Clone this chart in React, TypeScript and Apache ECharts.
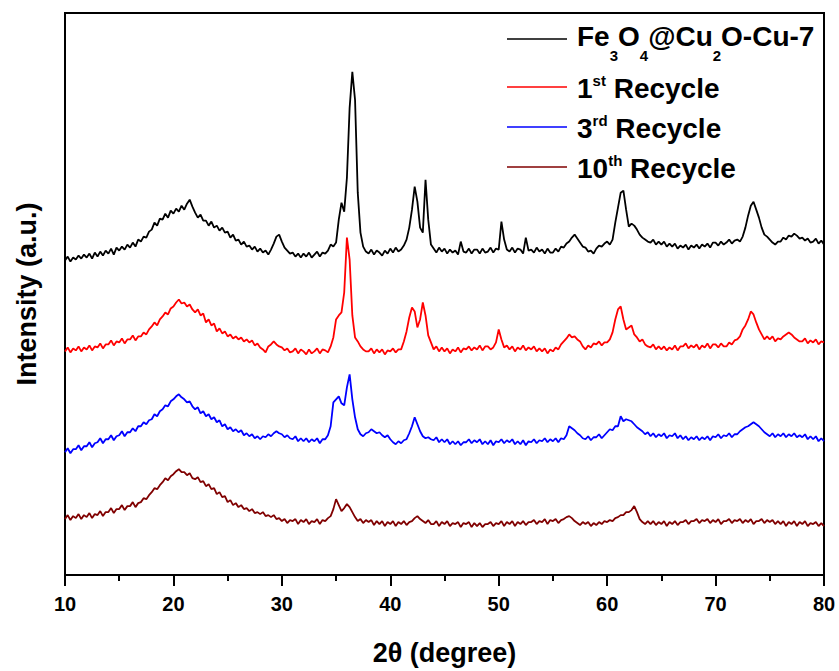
import React, { useEffect, useRef } from "react";
import * as echarts from "echarts";

// 2θ sampling: starts at 10°, one value every 0.25° up to 80°
const thetaStart = 10;
const thetaStep = 0.25;

const seriesNames = ["Fe3O4@Cu2O-Cu-7", "1st Recycle", "3rd Recycle", "10th Recycle"];
const seriesColors = ["#000000", "#ff0000", "#0000ff", "#800000"];
const xTickValues = [10, 20, 30, 40, 50, 60, 70, 80];

// Intensity (a.u., curves stacked with offsets as in the figure)
const fe3o4Cu2O = [
  317, 321, 316, 320, 318, 322, 319, 323, 320, 324, 319, 325, 321, 326, 322, 327,
  324, 329, 323, 330, 327, 331, 328, 333, 330, 335, 331, 338, 336, 341, 340, 346,
  348, 355, 352, 359, 358, 364, 360, 367, 364, 369, 366, 372, 368, 374, 378, 371,
  365, 360, 363, 357, 357, 352, 356, 350, 352, 347, 350, 345, 346, 340, 343, 337,
  338, 333, 336, 331, 332, 328, 331, 326, 329, 325, 327, 323, 328, 334, 341, 343,
  336, 330, 327, 324, 325, 321, 324, 320, 324, 321, 325, 320, 323, 326, 321, 325,
  324, 327, 333, 331, 335, 358, 375, 366, 400, 470, 506, 478, 385, 345, 331, 326,
  324, 328, 323, 327, 325, 322, 327, 324, 329, 325, 330, 326, 328, 332, 338, 350,
  368, 391, 376, 350, 345, 398, 358, 333, 329, 325, 330, 326, 329, 324, 328, 325,
  327, 323, 336, 326, 325, 329, 324, 328, 328, 324, 329, 325, 326, 330, 325, 329,
  328, 356, 338, 328, 326, 330, 325, 329, 328, 324, 340, 327, 328, 325, 330, 326,
  328, 324, 329, 325, 325, 329, 326, 331, 330, 334, 336, 340, 343, 339, 335, 331,
  330, 326, 327, 324, 329, 332, 331, 334, 336, 333, 338, 355, 370, 385, 387, 368,
  351, 354, 352, 348, 343, 340, 338, 336, 335, 338, 333, 336, 333, 336, 331, 334,
  331, 334, 329, 332, 330, 333, 328, 332, 330, 333, 329, 333, 331, 334, 330, 335,
  335, 332, 336, 333, 335, 338, 334, 337, 338, 336, 341, 350, 362, 372, 376, 368,
  360, 350, 343, 341, 338, 335, 333, 336, 336, 340, 338, 342, 341, 344, 342, 339,
  340, 337, 339, 335, 336, 339, 334, 337, 333,
];

const recycle1 = [
  226, 230, 225, 229, 227, 231, 226, 230, 228, 232, 227, 231, 230, 234, 229, 233,
  233, 237, 232, 236, 235, 239, 234, 238, 238, 242, 237, 241, 241, 245, 243, 248,
  251, 255, 252, 258, 261, 265, 263, 269, 271, 275, 278, 274, 275, 271, 273, 268,
  265, 268, 262, 264, 255, 258, 252, 254, 246, 249, 244, 246, 241, 243, 239, 241,
  238, 240, 236, 238, 235, 237, 232, 234, 230, 228, 225, 231, 233, 236, 233, 231,
  230, 227, 229, 225, 226, 229, 224, 228, 226, 223, 228, 224, 226, 229, 224, 228,
  227, 225, 231, 240, 258, 262, 265, 285, 340, 318, 262, 240, 236, 231, 228, 226,
  226, 229, 224, 228, 225, 228, 223, 227, 226, 229, 225, 228, 228, 236, 246, 260,
  270, 266, 250, 258, 275, 262, 242, 235, 228, 231, 226, 230, 226, 229, 224, 228,
  226, 230, 225, 229, 228, 231, 227, 230, 228, 232, 227, 231, 231, 228, 230, 235,
  248, 238, 230, 232, 228, 231, 226, 230, 228, 232, 227, 230, 228, 231, 226, 229,
  226, 229, 224, 228, 226, 230, 228, 233, 236, 239, 243, 240, 241, 238, 236, 231,
  228, 232, 230, 234, 233, 236, 232, 235, 235, 238, 245, 258, 268, 271, 258, 248,
  250, 252, 243, 240, 236, 238, 233, 231, 230, 233, 228, 231, 228, 231, 227, 230,
  228, 232, 227, 231, 231, 234, 229, 232, 230, 233, 228, 232, 230, 234, 229, 233,
  233, 230, 234, 231, 231, 235, 233, 237, 238, 241, 248, 252, 258, 266, 263, 255,
  248, 243, 238, 241, 238, 241, 236, 239, 238, 241, 243, 245, 243, 240, 238, 236,
  236, 239, 234, 237, 235, 238, 233, 236, 235,
];

const recycle3 = [
  125, 129, 124, 128, 128, 132, 127, 131, 131, 135, 130, 134, 135, 139, 134, 138,
  138, 142, 137, 141, 142, 146, 141, 145, 145, 149, 146, 151, 151, 155, 153, 157,
  158, 163, 161, 166, 168, 172, 171, 176, 178, 181, 183, 180, 178, 175, 176, 171,
  168, 170, 164, 166, 161, 163, 158, 160, 155, 157, 151, 153, 148, 150, 146, 148,
  145, 147, 142, 144, 141, 143, 139, 141, 138, 141, 140, 143, 141, 144, 146, 144,
  143, 140, 142, 139, 138, 141, 136, 139, 136, 139, 135, 138, 136, 139, 134, 138,
  138, 142, 151, 175, 178, 181, 174, 172, 190, 203, 178, 160, 148, 143, 141, 144,
  145, 148, 146, 144, 145, 142, 140, 142, 138, 135, 133, 136, 134, 137, 138, 144,
  151, 160, 153, 146, 141, 139, 140, 138, 137, 140, 135, 138, 135, 138, 133, 136,
  133, 136, 132, 135, 135, 138, 134, 137, 135, 138, 133, 136, 133, 137, 132, 136,
  135, 138, 134, 137, 135, 138, 133, 136, 133, 137, 132, 136, 135, 138, 134, 137,
  136, 139, 135, 138, 136, 139, 135, 139, 138, 142, 151, 149, 147, 144, 142, 139,
  138, 141, 137, 140, 140, 143, 139, 142, 145, 148, 147, 151, 151, 161, 156, 158,
  157, 156, 153, 150, 148, 146, 143, 145, 141, 144, 140, 143, 141, 144, 139, 142,
  141, 144, 139, 142, 138, 141, 137, 140, 138, 141, 137, 140, 138, 141, 137, 141,
  140, 143, 139, 142, 141, 144, 140, 143, 143, 146, 148, 150, 151, 153, 155, 153,
  151, 148, 145, 143, 141, 144, 140, 143, 141, 144, 140, 143, 141, 144, 140, 142,
  140, 143, 138, 141, 138, 141, 136, 139, 136,
];

const recycle10 = [
  58, 62, 57, 61, 59, 63, 58, 62, 60, 64, 59, 63, 62, 66, 61, 65,
  65, 69, 64, 68, 68, 72, 67, 71, 71, 75, 70, 74, 75, 79, 78, 82,
  85, 89, 88, 92, 95, 99, 97, 101, 103, 106, 108, 105, 105, 102, 104, 99,
  98, 100, 95, 96, 91, 93, 88, 89, 83, 85, 80, 81, 75, 77, 72, 74,
  70, 72, 68, 69, 66, 68, 64, 65, 63, 65, 61, 62, 60, 62, 58, 59,
  56, 58, 54, 57, 56, 58, 53, 57, 55, 58, 53, 56, 55, 58, 53, 57,
  56, 59, 61, 68, 78, 72, 66, 69, 73, 70, 65, 60, 56, 58, 54, 57,
  55, 57, 52, 56, 53, 56, 51, 55, 53, 56, 51, 55, 53, 56, 52, 55,
  56, 59, 61, 58, 56, 54, 57, 53, 53, 56, 51, 55, 53, 56, 51, 54,
  53, 55, 50, 54, 53, 55, 50, 54, 51, 54, 50, 53, 53, 55, 51, 54,
  53, 56, 51, 55, 53, 56, 51, 55, 53, 56, 52, 55, 55, 57, 53, 56,
  55, 58, 53, 57, 56, 58, 54, 57, 58, 60, 61, 59, 56, 54, 52, 55,
  53, 55, 51, 54, 52, 55, 53, 56, 55, 57, 56, 59, 60, 62, 62, 65,
  65, 67, 71, 65, 58, 55, 53, 56, 53, 56, 52, 55, 53, 56, 51, 55,
  53, 56, 52, 55, 55, 57, 53, 56, 56, 58, 54, 57, 56, 58, 54, 57,
  55, 58, 53, 56, 56, 58, 54, 57, 56, 58, 54, 57, 55, 58, 53, 56,
  56, 58, 54, 57, 55, 57, 53, 56, 53, 56, 51, 55, 53, 56, 51, 55,
  53, 56, 51, 54, 53, 55, 51, 54, 51,
];

const allSeries = [fe3o4Cu2O, recycle1, recycle3, recycle10];

const FONT = "'Liberation Sans', Arial, sans-serif";

export default function App() {
  const ref = useRef<HTMLDivElement>(null);

  useEffect(() => {
    if (!ref.current) return;
    const chart = echarts.init(ref.current, undefined, { renderer: "svg" });

    const series = allSeries.map((vals, k) => ({
      name: seriesNames[k],
      type: "line",
      data: vals.map((v, i) => [thetaStart + i * thetaStep, v]),
      showSymbol: false,
      symbol: "none",
      lineStyle: { color: seriesColors[k], width: 1.8 },
      itemStyle: { color: seriesColors[k] },
      z: 4 - k,
    }));

    const legendLineX1 = 507;
    const legendLineX2 = 567;
    const legendTextX = 577;
    const legendLineY = [39, 87, 127, 167];
    const legendTextY = [21, 73, 113, 153];
    const legendTexts = [
      "Fe{sub|3}O{sub|4}@Cu{sub|2}O-Cu-7",
      "1{sup|st} Recycle",
      "3{sup|rd} Recycle",
      "10{sup|th} Recycle",
    ];

    const graphic: any[] = [];
    legendTexts.forEach((t, k) => {
      graphic.push({
        type: "line",
        shape: { x1: legendLineX1, y1: legendLineY[k], x2: legendLineX2, y2: legendLineY[k] },
        style: { stroke: seriesColors[k], lineWidth: 1.5 },
        z: 10,
      });
      graphic.push({
        type: "text",
        x: legendTextX,
        y: legendTextY[k],
        z: 10,
        style: {
          text: t,
          fill: "#000",
          fontSize: 28,
          fontWeight: "bold",
          fontFamily: FONT,
          lineHeight: 30,
          verticalAlign: "top",
          rich: {
            sub: {
              fontSize: 15,
              fontWeight: "bold",
              fontFamily: FONT,
              lineHeight: 15,
              verticalAlign: "top",
              padding: [27, 0, 0, 0],
              fill: "#000",
            },
            sup: {
              fontSize: 15,
              fontWeight: "bold",
              fontFamily: FONT,
              lineHeight: 15,
              verticalAlign: "top",
              fill: "#000",
            },
          },
        },
      });
    });

    chart.setOption({
      animation: false,
      backgroundColor: "#ffffff",
      grid: {
        left: 65,
        right: 15,
        top: 13,
        bottom: 95,
        show: true,
        borderColor: "#000",
        borderWidth: 2,
        backgroundColor: "transparent",
      },
      xAxis: {
        type: "value",
        min: xTickValues[0],
        max: xTickValues[xTickValues.length - 1],
        interval: 10,
        name: "2θ (degree)",
        nameLocation: "middle",
        nameGap: 64,
        nameTextStyle: { fontSize: 27, fontWeight: "bold", fontFamily: FONT, color: "#000" },
        axisLine: { show: true, lineStyle: { color: "#000", width: 2 } },
        axisTick: { show: true, inside: false, length: 11, lineStyle: { color: "#000", width: 2 } },
        minorTick: { show: true, splitNumber: 2, length: 6, lineStyle: { color: "#000", width: 2 } },
        axisLabel: { fontSize: 20, fontWeight: "bold", fontFamily: FONT, color: "#000", margin: 19 },
        splitLine: { show: false },
        minorSplitLine: { show: false },
      },
      yAxis: {
        type: "value",
        min: 2,
        max: 565,
        name: "Intensity (a.u.)",
        nameLocation: "middle",
        nameGap: 25,
        nameTextStyle: { fontSize: 27, fontWeight: "bold", fontFamily: FONT, color: "#000" },
        axisLine: { show: true, lineStyle: { color: "#000", width: 2 } },
        axisTick: { show: false },
        axisLabel: { show: false },
        splitLine: { show: false },
      },
      graphic,
      series,
    });

    return () => chart.dispose();
  }, []);

  return <div ref={ref} style={{ width: 839, height: 671, position: "absolute", left: 0, top: 0 }} />;
}
